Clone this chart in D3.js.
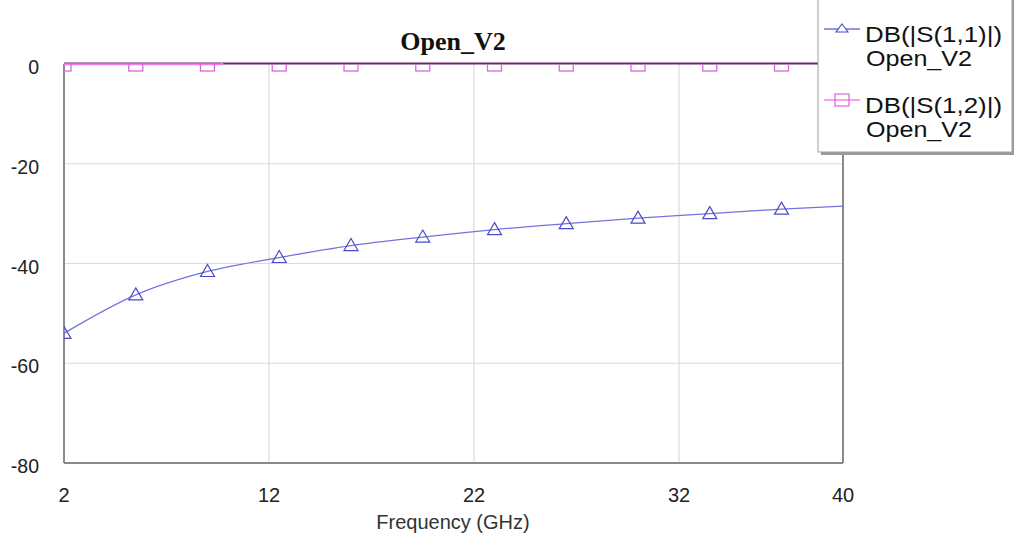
<!DOCTYPE html>
<html>
<head>
<meta charset="utf-8">
<script src="https://cdn.jsdelivr.net/npm/d3@7"></script>
<style>
  html, body { margin: 0; padding: 0; background: #fff; }
  svg { display: block; }
</style>
</head>
<body>
<svg id="chart" width="1014" height="537"></svg>
<script>
// Frequency sweep points (GHz) and measured traces (dB)
const freqs   = [2, 5.5, 9, 12.5, 16, 19.5, 23, 26.5, 30, 33.5, 37, 40];
const s11     = [-54.0, -46.3, -41.6, -38.8, -36.4, -34.7, -33.2, -32.0, -30.9, -30.0, -29.1, -28.5];
const s12Freq = [2, 9.7, 9.8, 40];
const s12     = [-0.05, -0.05, 1.0, 1.0];
// Marker positions along each trace
const markerFreqs = [2, 5.5, 9, 12.5, 16, 19.5, 23, 26.5, 30, 33.5, 37];
const s12Markers  = [0, 0, 0, 0, 0, 0, 0, 0, 0, 0, 0];
const xTicks = [2, 12, 22, 32, 40];
const yTicks = [0, -20, -40, -60, -80];
const title = "Open_V2";
const xLabel = "Frequency (GHz)";
const legendItems = [
  { name: "DB(|S(1,1)|)", sub: "Open_V2", key: "s11" },
  { name: "DB(|S(1,2)|)", sub: "Open_V2", key: "s12" }
];

const colors = {
  s11Line: "#7373e0", s11Mark: "#4a4ac4",
  s12Line: "#f07ef0", s12Mark: "#d86ad8"
};

const svg = d3.select("#chart");
const plotL = 64, plotR = 843, plotT = 64, plotB = 463;

const x = d3.scaleLinear().domain([2, 40]).range([plotL, plotR]);
const y = d3.scaleLinear().domain([-80, 0]).range([plotB, plotT]);

// Clip regions: traces may overlap the top frame slightly, markers stay inside
const defs = svg.append("defs");
defs.append("clipPath").attr("id", "traceClip")
  .append("rect").attr("x", plotL).attr("y", plotT - 2)
  .attr("width", plotR - plotL).attr("height", plotB - plotT + 2);
defs.append("clipPath").attr("id", "markClip")
  .append("rect").attr("x", plotL).attr("y", plotT)
  .attr("width", plotR - plotL).attr("height", plotB - plotT);

// Grid lines
const grid = svg.append("g");
grid.selectAll("line.gx").data(xTicks.filter(d => d > 2 && d < 40)).join("line")
  .attr("x1", d => x(d)).attr("x2", d => x(d))
  .attr("y1", plotT).attr("y2", plotB)
  .attr("stroke", "#dadada").attr("stroke-width", 1.2);
grid.selectAll("line.gy").data(yTicks.filter(d => d < 0 && d > -80)).join("line")
  .attr("x1", plotL).attr("x2", plotR)
  .attr("y1", d => y(d)).attr("y2", d => y(d))
  .attr("stroke", "#dadada").attr("stroke-width", 1.2);

// Frame
svg.append("line").attr("x1", plotL).attr("x2", plotL).attr("y1", plotT).attr("y2", plotB)
  .attr("stroke", "#8a8a8a").attr("stroke-width", 2);
svg.append("line").attr("x1", plotL).attr("x2", plotR).attr("y1", plotB).attr("y2", plotB)
  .attr("stroke", "#8a8a8a").attr("stroke-width", 2);
svg.append("line").attr("x1", plotR).attr("x2", plotR).attr("y1", plotT).attr("y2", plotB)
  .attr("stroke", "#8a8a8a").attr("stroke-width", 2);
svg.append("line").attr("x1", plotL).attr("x2", plotR).attr("y1", plotT - 0.5).attr("y2", plotT - 0.5)
  .attr("stroke", "#6a2a66").attr("stroke-width", 2);

// Traces
const traces = svg.append("g").attr("clip-path", "url(#traceClip)");
const marks = svg.append("g").attr("clip-path", "url(#markClip)");
const line = d3.line().curve(d3.curveMonotoneX);

traces.append("path")
  .attr("d", line(s12Freq.map((f, i) => [x(f), y(s12[i])])))
  .attr("fill", "none").attr("stroke", colors.s12Line).attr("stroke-width", 2);

traces.append("path")
  .attr("d", line(freqs.map((f, i) => [x(f), y(s11[i])])))
  .attr("fill", "none").attr("stroke", colors.s11Line).attr("stroke-width", 1.3);

// Square markers on S(1,2)
const sq = 14;
marks.selectAll("rect.m12").data(markerFreqs).join("rect")
  .attr("x", d => x(d) - sq / 2).attr("y", (d, i) => y(s12Markers[i]) - sq / 2)
  .attr("width", sq).attr("height", sq)
  .attr("fill", "none").attr("stroke", colors.s12Mark).attr("stroke-width", 1.3);

// Triangle markers on S(1,1)
const s11At = d3.scaleLinear().domain(freqs).range(s11);
const tri = (cx, cy) => `M${cx},${cy - 7}L${cx + 7},${cy + 5}L${cx - 7},${cy + 5}Z`;
marks.selectAll("path.m11").data(markerFreqs).join("path")
  .attr("d", d => tri(x(d), y(s11At(d))))
  .attr("fill", "none").attr("stroke", colors.s11Mark).attr("stroke-width", 1.2);

// Tick labels
const font = "'Liberation Sans', Arial, sans-serif";
svg.selectAll("text.yt").data(yTicks).join("text")
  .attr("x", 39).attr("y", d => y(d) + 10)
  .attr("text-anchor", "end").attr("font-family", font).attr("font-size", 19.5)
  .attr("fill", "#222").text(d => d);
svg.selectAll("text.xt").data(xTicks).join("text")
  .attr("x", d => x(d)).attr("y", 502)
  .attr("text-anchor", "middle").attr("font-family", font).attr("font-size", 20)
  .attr("fill", "#222").text(d => d);

svg.append("text").attr("x", 453).attr("y", 529).attr("text-anchor", "middle")
  .attr("font-family", font).attr("font-size", 20).attr("fill", "#333").text(xLabel);

svg.append("text").attr("x", 453).attr("y", 50).attr("text-anchor", "middle")
  .attr("font-family", "'Liberation Serif', 'Times New Roman', serif")
  .attr("font-weight", "bold").attr("font-size", 26).attr("fill", "#111").text(title);

// Legend box with drop shadow
const lg = svg.append("g");
lg.append("rect").attr("x", 821).attr("y", 0).attr("width", 194).attr("height", 155)
  .attr("fill", "#9a9a9a");
lg.append("rect").attr("x", 818).attr("y", -2).attr("width", 194).attr("height", 154)
  .attr("fill", "#fff").attr("stroke", "#a0a0a0").attr("stroke-width", 1);

const rowY = [29, 100];
legendItems.forEach((it, i) => {
  const cy = rowY[i];
  const isS11 = it.key === "s11";
  lg.append("line").attr("x1", 824).attr("x2", 860).attr("y1", cy).attr("y2", cy)
    .attr("stroke", isS11 ? colors.s11Line : colors.s12Line).attr("stroke-width", 1.3);
  if (isS11) {
    lg.append("path").attr("d", `M842,${cy - 5}L848,${cy + 3}L836,${cy + 3}Z`)
      .attr("fill", "#fff").attr("stroke", colors.s11Mark).attr("stroke-width", 1.1);
  } else {
    lg.append("rect").attr("x", 835).attr("y", cy - 6).attr("width", 14).attr("height", 12)
      .attr("fill", "none").attr("stroke", colors.s12Mark).attr("stroke-width", 1.2);
  }
  lg.append("text").attr("x", 865).attr("y", cy + 12.5)
    .attr("font-family", font).attr("font-size", 22).attr("fill", "#111")
    .attr("textLength", 137).attr("lengthAdjust", "spacingAndGlyphs").text(it.name);
  lg.append("text").attr("x", 866).attr("y", cy + 37)
    .attr("font-family", font).attr("font-size", 22).attr("fill", "#111")
    .attr("textLength", 106).attr("lengthAdjust", "spacingAndGlyphs").text(it.sub);
});
</script>
</body>
</html>
